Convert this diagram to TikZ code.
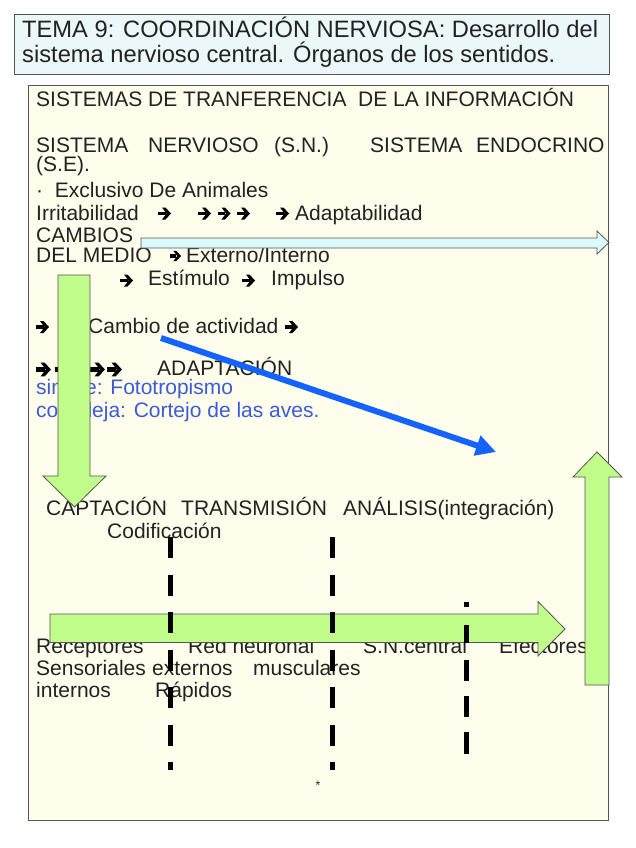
\documentclass[tikz,border=0pt]{standalone}
\usepackage{fontspec}
\setmainfont{Liberation Sans}
\usetikzlibrary{arrows.meta}
\definecolor{titlefill}{HTML}{ECF7FA}
\definecolor{boxfill}{HTML}{FFFEEC}
\definecolor{edgegrey}{HTML}{555555}
\definecolor{txtcol}{HTML}{222222}
\definecolor{bluetxt}{HTML}{3B5CD6}
\definecolor{arrowgreen}{HTML}{C1FD8B}
\definecolor{arrowcyan}{HTML}{DCF9FC}
\definecolor{strongblue}{HTML}{1463FF}
\begin{document}
\begin{tikzpicture}[x=1pt,y=-1pt,
  txt/.style={anchor=base west,inner sep=0pt,text=txtcol,font=\fontsize{21}{24}\selectfont},
  bluet/.style={txt,text=bluetxt},
  ttl/.style={anchor=base west,inner sep=0pt,text=txtcol,font=\fontsize{23.7}{28}\selectfont},
  greenarrow/.style={fill=arrowgreen,draw=edgegrey,line width=0.8pt,line join=miter},
  cyanarrow/.style={fill=arrowcyan,draw=edgegrey,line width=0.8pt,line join=miter},
  dashline/.style={line width=5pt,dash pattern=on 21pt off 16.5pt},
  panel/.style={draw=edgegrey,line width=0.8pt},
  harrow/.pic={\fill[black] (0,-1.8) rectangle (7.5,1.8);
               \fill[black] (4,-6) -- (7.5,-6) -- (13,0) -- (7.5,6) -- (4,6) -- (8.5,0) -- cycle;}
]
\useasboundingbox (0,0) rectangle (636,848);
\fill[white] (0,0) rectangle (636,848);
% title box
\draw[panel,fill=titlefill] (14,14) rectangle (609,74);
\node[ttl] (ti1) at (22,38) {TEMA 9: COORDINACIÓN NERVIOSA: Desarrollo del};
\node[ttl] (ti2) at (22,63) {sistema nervioso central. Órganos de los sentidos.};
% main box
\draw[panel,fill=boxfill] (28,85) rectangle (608,820);
\node[txt] (l1) at (36,107) {SISTEMAS DE TRANFERENCIA\ \ DE LA INFORMACIÓN};
\node[txt] (l2a) at (36,152) {SISTEMA};
\node[txt] (l2b) at (148,152) {NERVIOSO};
\node[txt] (l2c) at (274,152) {(S.N.)};
\node[txt] (l2d) at (370,152) {SISTEMA};
\node[txt] (l2e) at (476,152) {ENDOCRINO};
\node[txt] (l3) at (36,171) {(S.E).};
\node[txt] (l4) at (36,197) {·\ \ Exclusivo De Animales};
\node[txt] (l5a) at (36,220) {Irritabilidad};
\node[txt] (l5e) at (295,220) {Adaptabilidad};
\node[txt] (l6) at (36,242) {CAMBIOS};
\node[txt] (l7a) at (36,262) {DEL MEDIO};
\node[txt] (l7c) at (186,262) {Externo/Interno};
\node[txt] (l8b) at (148,285) {Estímulo};
\node[txt] (l8d) at (271,285) {Impulso};
\node[txt] (l9b) at (88,333) {Cambio de actividad};
\node[txt] (l10b) at (157,375) {ADAPTACIÓN};
\node[bluet] (l11) at (36,394) {simple: Fototropismo};
\node[bluet] (l12) at (36,417) {compleja: Cortejo de las aves.};
\node[txt] (l13a) at (46,515) {CAPTACIÓN};
\node[txt] (l13b) at (181,515) {TRANSMISIÓN};
\node[txt] (l13c) at (343,515) {ANÁLISIS(integración)};
\node[txt] (l14) at (107,538) {Codificación};
\node[txt] (l15a) at (36,653) {Receptores};
\node[txt] (l15b) at (188,653) {Red neuronal};
\node[txt] (l15c) at (363,653) {S.N.central};
\node[txt] (l15d) at (499,653) {Efectores};
\node[txt] (l16a) at (36,675) {Sensoriales};
\node[txt] (l16b) at (152,675) {externos};
\node[txt] (l16c) at (253,675) {musculares};
\node[txt] (l17a) at (36,697) {internos};
\node[txt] (l17b) at (155,697) {Rápidos};
\node[anchor=center,inner sep=0pt,text=txtcol,font=\fontsize{12}{12}\selectfont] (star) at (318,785) {*};
% small black arrows in the text
\pic (a1) at (158,213.5) {harrow};
\pic (a2) at (198,213.5) {harrow};
\pic (a3) at (217.5,213.5) {harrow};
\pic (a4) at (237,213.5) {harrow};
\pic (a5) at (276,213.5) {harrow};
\pic[scale=0.85] (a6) at (170,256) {harrow};
\pic (a7) at (120,280.5) {harrow};
\pic (a8) at (242,280.5) {harrow};
\pic (a9) at (36,327) {harrow};
\pic (a10) at (285,327) {harrow};
\pic[scale=1.15] (a11) at (36,369.5) {harrow};
\pic[scale=1.15] (a12) at (55,369.5) {harrow};
\pic[scale=1.15] (a13) at (90,369.5) {harrow};
\pic[scale=1.15] (a14) at (107,369.5) {harrow};
% light blue arrow
\draw[cyanarrow] (141,238) -- (597,238) -- (597,231) -- (609,242.5) -- (597,254) -- (597,248) -- (141,248) -- cycle;
% green down arrow
\draw[greenarrow] (58,275) -- (90,275) -- (90,476) -- (106,476) -- (74.5,507) -- (43,476) -- (58,476) -- cycle;
% blue arrow
\coordinate (bs) at (161,338);
\coordinate (be) at (496,452);
\draw[strongblue,line width=6pt,-{Triangle[length=20pt,width=20pt]}] (bs) -- (be);
% green right arrow
\draw[greenarrow] (50,614) -- (538,614) -- (538,601.5) -- (565,629) -- (538,656) -- (538,642.5) -- (50,642.5) -- cycle;
% dashed lines
\coordinate (d1t) at (170,537); \coordinate (d1b) at (170,770);
\coordinate (d2t) at (332,537); \coordinate (d2b) at (332,770);
\coordinate (d3t) at (466.5,602); \coordinate (d3b) at (466.5,755);
\draw[dashline] (d1t) -- (d1b);
\draw[dashline] (d2t) -- (d2b);
\draw[dashline,dash pattern=on 5pt off 18pt on 18pt off 17pt on 21pt off 15pt on 21pt off 15pt on 22pt off 100pt] (d3t) -- (d3b);
% green up arrow
\draw[greenarrow] (585,685) -- (609,685) -- (609,477) -- (622,477) -- (597,452) -- (573,477) -- (585,477) -- cycle;
\end{tikzpicture}
\end{document}
